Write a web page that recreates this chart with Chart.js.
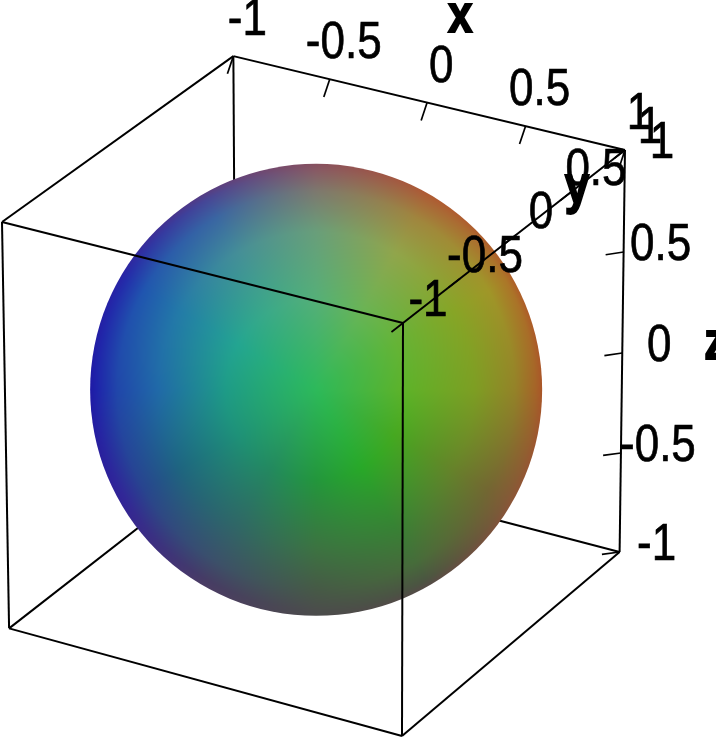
<!DOCTYPE html>
<html>
<head>
<meta charset="utf-8">
<style>
  html, body { margin: 0; padding: 0; background: #fff; }
  canvas { display: block; }
</style>
<script src="https://cdn.jsdelivr.net/npm/chart.js@4"></script>
</head>
<body>
<canvas id="chart" width="716" height="738"></canvas>
<script>
// axis values
const xTicks = [-1, -0.5, 0, 0.5, 1];
const yTicks = [-1, -0.5, 0, 0.5, 1];
const zTicks = [-1, -0.5, 0, 0.5, 1];
const tickLabels = ['-1', '-0.5', '0', '0.5', '1'];

// box corners in data space, then the edges that pass behind / in front of the ball
const boxCorners = {
  A: [-1, 1, 1], B: [1, 1, 1], C: [-1, -1, 1], D: [1, -1, 1],
  E: [-1, -1, -1], F: [1, -1, -1], G: [1, 1, -1], H: [-1, 1, -1],
};
const backEdges = ['AH', 'EH', 'GH'];
const frontEdges = ['AB', 'AC', 'BD', 'CD', 'CE', 'DF', 'EF', 'FG', 'BG'];

// ball colours, ring by ring, every 30 degrees counterclockwise from east
const surfaceCenter = [45, 185, 90];
const ringFractions = [0.4, 0.7, 0.88, 0.97, 1];
const ring40 = [[95, 178, 40], [100, 180, 55], [105, 180, 85], [85, 175, 120], [60, 170, 135], [35, 165, 145], [30, 155, 135], [30, 145, 120], [35, 137, 95], [35, 150, 60], [40, 168, 40], [70, 168, 32]];
const ring70 = [[125, 158, 35], [135, 165, 38], [145, 165, 75], [105, 158, 122], [68, 142, 152], [35, 122, 168], [32, 105, 168], [30, 100, 128], [48, 102, 102], [60, 115, 65], [55, 130, 52], [102, 130, 42]];
const ring88 = [[148, 130, 40], [160, 150, 40], [160, 133, 62], [125, 120, 110], [58, 102, 162], [32, 85, 175], [32, 70, 170], [40, 68, 142], [60, 80, 105], [70, 90, 70], [70, 108, 58], [115, 102, 50]];
const ring97 = [[165, 100, 40], [172, 118, 40], [170, 100, 55], [135, 90, 100], [70, 70, 150], [35, 45, 170], [30, 35, 170], [50, 40, 150], [70, 60, 100], [75, 78, 75], [75, 85, 65], [130, 90, 55]];
const ring100 = [[170, 85, 40], [175, 95, 40], [175, 90, 50], [135, 80, 95], [85, 60, 130], [40, 35, 165], [30, 25, 165], [50, 35, 150], [75, 60, 100], [75, 75, 75], [85, 75, 70], [140, 85, 55]];
const surfaceRings = [ring40, ring70, ring88, ring97, ring100];

// perspective fitted to the box: screen = (origin + s*e1 + t*e2 + r*e3) / (1 + s*q1 + t*q2 + r*q3)
const camera = {
  origin: [403, 323],
  e1: [-400.96, -96.1],
  e2: [245.1, -167.45],
  e3: [7.44, 428.46],
  q: [0.022, 0.037, 0.021],
};

function project([x, y, z]) {
  const s = (1 - x) / 2;
  const t = (y + 1) / 2;
  const r = (1 - z) / 2;
  const w = 1 + s * camera.q[0] + t * camera.q[1] + r * camera.q[2];
  return {
    x: (camera.origin[0] + s * camera.e1[0] + t * camera.e2[0] + r * camera.e3[0]) / w,
    y: (camera.origin[1] + s * camera.e1[1] + t * camera.e2[1] + r * camera.e3[1]) / w,
  };
}

const BALL_RADIUS = 226;
const center = project([0, 0, 0]);

function surfaceColor(frac, angle) {
  const sector = (angle / 30) % 12;
  const a = Math.floor(sector);
  const b = (a + 1) % 12;
  const ta = sector - a;
  const around = (ring) => ring[a].map((c, i) => c + (ring[b][i] - c) * ta);
  if (frac <= ringFractions[0]) {
    const c1 = around(surfaceRings[0]);
    const k = frac / ringFractions[0];
    return surfaceCenter.map((c, i) => c + (c1[i] - c) * k);
  }
  let n = 0;
  while (n < ringFractions.length - 2 && frac > ringFractions[n + 1]) n++;
  const c0 = around(surfaceRings[n]);
  const c1 = around(surfaceRings[n + 1]);
  const k = Math.min(1, (frac - ringFractions[n]) / (ringFractions[n + 1] - ringFractions[n]));
  return c0.map((c, i) => c + (c1[i] - c) * k);
}

function makeSurfacePattern() {
  const page = document.createElement('canvas');
  page.width = 716;
  page.height = 738;
  const pctx = page.getContext('2d');
  const img = pctx.createImageData(716, 738);
  for (let py = 0; py < 738; py++) {
    for (let px = 0; px < 716; px++) {
      const dx = px + 0.5 - center.x;
      const dy = center.y - (py + 0.5);
      const frac = Math.hypot(dx, dy) / BALL_RADIUS;
      if (frac > 1.02) continue;
      const angle = (Math.atan2(dy, dx) * 180 / Math.PI + 360) % 360;
      const rgb = surfaceColor(frac, angle);
      const at = (py * 716 + px) * 4;
      img.data[at] = rgb[0];
      img.data[at + 1] = rgb[1];
      img.data[at + 2] = rgb[2];
      img.data[at + 3] = 255;
    }
  }
  pctx.putImageData(img, 0, 0);
  return pctx.createPattern(page, 'no-repeat');
}

function edgeDataset(edge, order) {
  return {
    type: 'scatter',
    showLine: true,
    order,
    borderColor: '#000',
    borderWidth: 2,
    pointRadius: 0,
    clip: false,
    data: [project(boxCorners[edge[0]]), project(boxCorners[edge[1]])],
  };
}

function tickDataset(point, offset) {
  const end = [point[0] + offset[0], point[1] + offset[1], point[2] + offset[2]];
  return {
    type: 'scatter',
    showLine: true,
    order: 0,
    borderColor: '#000',
    borderWidth: 1.7,
    pointRadius: 0,
    clip: false,
    data: [project(point), project(end)],
  };
}

const axes = [
  { title: 'x', at: (v) => [v, 1, 1], ticks: xTicks, tick: [0, -0.054, -0.066], shift: [14, -35] },
  { title: 'y', at: (v) => [1, v, 1], ticks: yTicks, tick: [0, -0.1, 0], shift: [25, -21] },
  { title: 'z', at: (v) => [1, 1, v], ticks: zTicks, tick: [-0.09, 0, -0.035], shift: [37, -6] },
];
const axisTitles = [
  { text: 'x', at: [0, 1, 1], shift: [33, -85] },
  { text: 'y', at: [1, 0.5, 1], shift: [6, -3] },
  { text: 'z', at: [1, 1, 0], shift: [93, -8] },
];

function drawText(ctx, text, px, py, font, stroke) {
  ctx.save();
  ctx.translate(px, py);
  ctx.scale(1, 1.17);
  ctx.font = font;
  ctx.fillStyle = '#000';
  ctx.strokeStyle = '#000';
  ctx.lineWidth = stroke;
  ctx.textAlign = 'center';
  ctx.textBaseline = 'middle';
  ctx.fillText(text, 0, 0);
  ctx.strokeText(text, 0, 0);
  ctx.restore();
}

const axisTextPlugin = {
  id: 'axisText',
  afterDatasetsDraw(chart) {
    const { ctx } = chart;
    axes.forEach((axis) => {
      axis.ticks.forEach((v, i) => {
        const p = project(axis.at(v));
        drawText(ctx, tickLabels[i], p.x + axis.shift[0], p.y + axis.shift[1], '44px "Liberation Sans"', 0.6);
      });
    });
    axisTitles.forEach((t) => {
      const p = project(t.at);
      drawText(ctx, t.text, p.x + t.shift[0], p.y + t.shift[1], 'bold 44px "Liberation Sans"', 1.6);
    });
  },
};

const tickSets = axes.flatMap((axis) => axis.ticks.map((v) => tickDataset(axis.at(v), axis.tick)));

new Chart(document.getElementById('chart'), {
  type: 'scatter',
  data: {
    datasets: [
      ...backEdges.map((e) => edgeDataset(e, 2)),
      {
        type: 'bubble',
        order: 1,
        clip: false,
        data: [{ x: center.x, y: center.y, r: BALL_RADIUS }],
        backgroundColor: makeSurfacePattern(),
        borderWidth: 0,
      },
      ...frontEdges.map((e) => edgeDataset(e, 0)),
      ...tickSets,
    ],
  },
  options: {
    responsive: false,
    animation: false,
    devicePixelRatio: 1,
    events: [],
    layout: { padding: 0, autoPadding: false },
    plugins: { legend: { display: false }, tooltip: { enabled: false } },
    scales: {
      x: { type: 'linear', display: false, min: 0, max: 716 },
      y: { type: 'linear', display: false, min: 0, max: 738, reverse: true },
    },
  },
  plugins: [axisTextPlugin],
});
</script>
</body>
</html>
